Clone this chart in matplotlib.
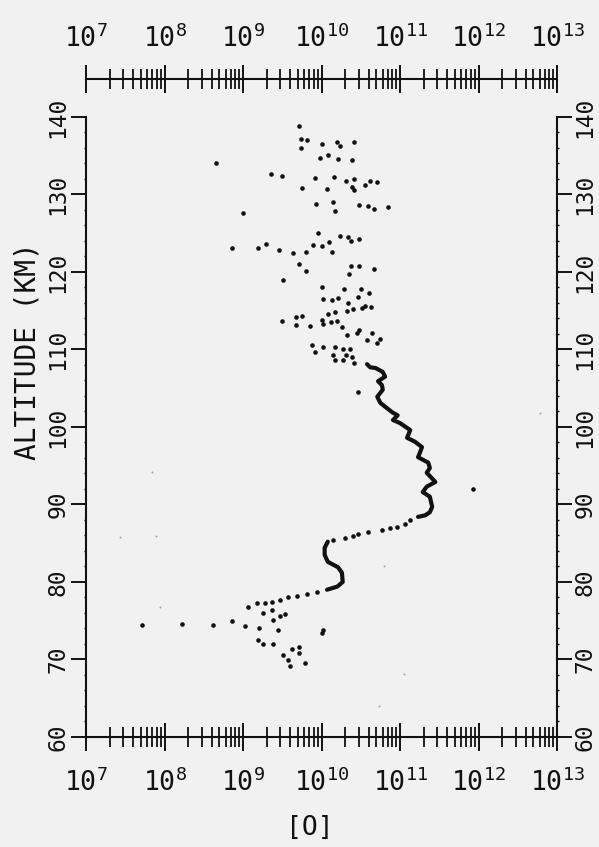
import numpy as np
import matplotlib
matplotlib.use("Agg")
from matplotlib import pyplot as plt
from matplotlib import ticker

plt.rcParams['font.family'] = 'DejaVu Sans Mono'
plt.rcParams['mathtext.fontset'] = 'custom'
plt.rcParams['mathtext.rm'] = 'DejaVu Sans Mono'
plt.rcParams['mathtext.it'] = 'DejaVu Sans Mono'

# log10 of [O] density and altitude (km)
# scattered single points
cloud_log_o = [9.71, 9.74, 9.82, 9.74, 10.01, 10.20, 10.24, 10.41, 9.98, 10.08,
               10.21, 10.39, 8.66, 9.36, 9.50, 9.92, 10.16, 10.31, 10.41, 10.39,
               10.41, 10.55, 10.62, 10.71, 9.75, 10.07, 9.93, 10.15, 10.17, 10.48,
               10.59, 10.67, 10.85, 9.00, 9.96, 10.24, 10.34, 10.38, 10.48, 8.86,
               9.19, 9.29, 9.46, 9.64, 9.80, 9.89, 10.01, 10.10, 10.13, 9.71,
               9.80, 10.38, 10.35, 10.48, 10.67, 9.51, 10.01, 10.29, 10.50, 10.61,
               10.02, 10.13, 10.21, 10.34, 10.46, 10.32, 10.40, 10.52, 10.55, 10.63,
               9.50, 9.68, 9.75, 9.68, 9.85, 10.01, 10.02, 10.08, 10.17, 10.12,
               10.20, 10.26, 10.32, 10.48, 10.45, 10.58, 10.64, 10.75, 10.71, 9.88,
               9.92, 10.02, 10.17, 10.15, 10.27, 10.36, 10.31, 10.39, 10.27, 10.17,
               10.41, 10.46, 11.93,
               11.13, 11.06, 10.96, 10.87, 10.77, 10.59, 10.46, 10.40, 10.30, 10.15,
               9.94, 9.82, 9.69, 9.57, 9.47, 9.37, 9.28, 9.18, 9.06,
               9.25, 9.37, 9.38, 9.54, 9.47, 8.62, 8.86, 9.03, 9.20, 9.45,
               9.19, 9.25, 9.38, 9.62, 9.71, 9.71, 9.51, 9.57, 9.60, 9.79,
               10.01, 10.02, 7.71, 8.22]
cloud_alt = [138.8, 137.2, 137.0, 136.0, 136.5, 136.8, 136.3, 136.8, 134.7, 135.1,
             134.6, 134.5, 134.1, 132.6, 132.4, 132.1, 132.3, 131.7, 132.0, 131.0,
             130.6, 131.2, 131.7, 131.6, 130.8, 130.7, 128.8, 129.0, 127.9, 128.6,
             128.5, 128.1, 128.4, 127.6, 125.0, 124.6, 124.5, 124.0, 124.3, 123.1,
             123.1, 123.6, 122.8, 122.5, 122.6, 123.5, 123.4, 123.9, 122.6, 121.0,
             120.1, 120.8, 119.8, 120.8, 120.4, 119.0, 118.1, 117.8, 117.8, 117.3,
             116.5, 116.4, 116.6, 116.0, 116.8, 115.0, 115.2, 115.4, 115.6, 115.5,
             113.7, 114.2, 114.3, 113.2, 113.0, 113.8, 113.3, 114.6, 114.8, 113.5,
             113.7, 112.9, 111.9, 112.5, 112.1, 111.2, 112.1, 111.4, 110.8, 110.6,
             109.7, 110.3, 110.3, 109.3, 110.1, 110.0, 109.3, 109.0, 108.6, 108.6,
             108.3, 104.5, 92.0,
             88.0, 87.5, 87.1, 87.0, 86.7, 86.5, 86.2, 85.9, 85.7, 85.4,
             78.7, 78.5, 78.2, 78.1, 77.7, 77.4, 77.3, 77.3, 76.8,
             76.0, 76.4, 75.1, 75.9, 75.6, 74.5, 75.0, 74.3, 74.1, 73.8,
             72.5, 72.0, 72.0, 71.4, 71.6, 70.8, 70.6, 69.9, 69.2, 69.5,
             73.4, 73.8, 74.5, 74.6]

# continuous profile, 108 - 88 km
upper_log_o = [10.58, 10.62, 10.69, 10.78, 10.81, 10.72, 10.77, 10.78, 10.71, 10.75,
               10.90, 10.97, 10.91, 11.00, 11.13, 11.09, 11.19, 11.28, 11.25, 11.23,
               11.36, 11.38, 11.34, 11.45, 11.34, 11.29, 11.38, 11.41, 11.38, 11.32,
               11.23]
upper_alt = [108.1, 107.7, 107.6, 107.1, 106.5, 105.9, 105.4, 104.8, 103.9, 103.1,
             101.9, 101.5, 100.9, 100.5, 99.6, 98.6, 98.1, 97.4, 96.6, 96.1,
             95.4, 94.7, 94.1, 92.9, 92.3, 91.6, 91.0, 89.7, 89.0, 88.6,
             88.4]

# continuous profile, 85 - 79 km
lower_log_o = [10.08, 10.04, 10.04, 10.08, 10.21, 10.26, 10.27, 10.20, 10.07]
lower_alt = [85.2, 84.4, 83.5, 82.6, 81.9, 81.2, 80.0, 79.4, 79.0]

# faint specks
faint_log_o = [7.84, 7.94, 10.80, 11.05, 10.73, 12.78, 7.43, 7.89]
faint_alt = [94.2, 76.8, 82.1, 68.1, 64.0, 101.8, 85.8, 85.9]

decades = [7, 8, 9, 10, 11, 12, 13]
alt_ticks = [60, 70, 80, 90, 100, 110, 120, 130, 140]

bg = '#f1f1f1'
ink = '#111111'

fig = plt.figure(figsize=(5.99, 8.47), dpi=100, facecolor=bg)
ax = fig.add_axes([0.1436, 0.1299, 0.7863, 0.7320], facecolor=bg)

ax.plot(10.0 ** np.array(upper_log_o), upper_alt, '-', color=ink, lw=3.0,
        solid_capstyle='round', solid_joinstyle='round')
ax.plot(10.0 ** np.array(lower_log_o), lower_alt, '-', color=ink, lw=3.0,
        solid_capstyle='round', solid_joinstyle='round')
ax.plot(10.0 ** np.array(cloud_log_o), cloud_alt, 'o', color=ink, ms=3.3, mew=0)
ax.plot(10.0 ** np.array(faint_log_o), faint_alt, 'o', color='#9a9a9a', ms=1.3, mew=0)

ax.set_xscale('log')
ax.set_xlim(1e7, 1e13)
ax.set_ylim(60, 140)

decade_ticks = [10.0 ** d for d in decades]
decade_labels = [r'$10^{%d}$' % d for d in decades]
minor_loc = ticker.LogLocator(base=10, subs=np.arange(2, 10), numticks=20)

ax.xaxis.set_major_locator(ticker.FixedLocator(decade_ticks))
ax.xaxis.set_major_formatter(ticker.FixedFormatter(decade_labels))
ax.xaxis.set_minor_locator(minor_loc)
ax.xaxis.set_minor_formatter(ticker.NullFormatter())

ax.yaxis.set_major_locator(ticker.FixedLocator(alt_ticks))
ax.yaxis.set_minor_locator(ticker.MultipleLocator(2))

for side in ['left', 'right', 'bottom']:
    ax.spines[side].set_linewidth(1.5)
    ax.spines[side].set_color(ink)
ax.spines['top'].set_visible(False)

ax.tick_params(axis='x', which='major', direction='inout', length=20, width=1.4,
               top=False, bottom=True, labelbottom=True,
               labelsize=19, pad=13, colors=ink)
ax.tick_params(axis='x', which='minor', direction='inout', length=14, width=1.3,
               top=False, bottom=True, colors=ink)
ax.tick_params(axis='y', which='major', direction='out', length=11, width=1.4,
               left=True, right=True, labelleft=True, labelright=True,
               labelsize=16.5, pad=1, colors=ink)
ax.tick_params(axis='y', which='minor', direction='out', length=1.5, width=1.0,
               left=True, right=True, colors=ink)
for lab in ax.get_yticklabels():
    lab.set_rotation(90)
    lab.set_va('center')

# upper scale floating above the frame
top = ax.secondary_xaxis(1.0 + 38 / 620)
top.spines['top'].set_linewidth(1.5)
top.spines['top'].set_color(ink)
top.xaxis.set_major_locator(ticker.FixedLocator(decade_ticks))
top.xaxis.set_major_formatter(ticker.FixedFormatter(decade_labels))
top.xaxis.set_minor_locator(ticker.LogLocator(base=10, subs=np.arange(2, 10), numticks=20))
top.xaxis.set_minor_formatter(ticker.NullFormatter())
top.tick_params(axis='x', which='major', direction='inout', length=20, width=1.4,
                labelsize=19, pad=9, colors=ink)
top.tick_params(axis='x', which='minor', direction='inout', length=14, width=1.3,
                colors=ink)

fig.text(28 / 599, 1 - 351 / 847, 'ALTITUDE (KM)', rotation=90, ha='center',
         va='center', fontsize=20, color=ink)
fig.text(310 / 599, 1 - 828 / 847, '[O]', ha='center', va='center',
         fontsize=19, color=ink)

fig.savefig('out.png', dpi=100, facecolor=bg)
